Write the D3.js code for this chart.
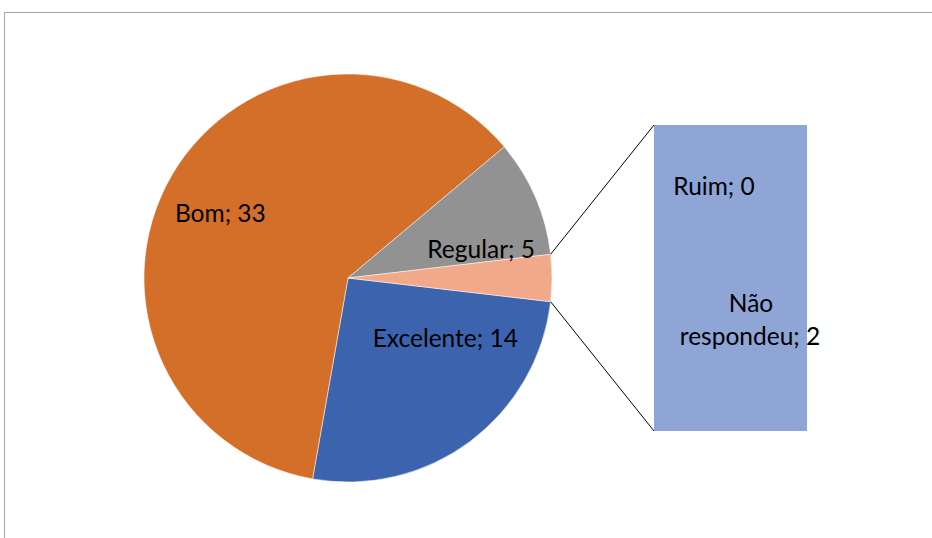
<!DOCTYPE html>
<meta charset="utf-8">
<script src="https://d3js.org/d3.v7.min.js"></script>
<style>
  body { margin: 0; background: #fff; }
  text { font-family: Lato, "Liberation Sans", sans-serif; font-size: 24.5px; fill: #000; }
</style>
<svg id="chart" width="932" height="538"></svg>
<script>
// main pie
var pieNames  = ["Excelente", "Bom", "Regular", "Outros"];
var pieValues = [14, 33, 5, 2];
var pieColors = ["#3c64ae", "#d46f2a", "#929292", "#f1a98a"];

// bar of "Outros"
var barNames  = ["Não respondeu", "Ruim"];
var barValues = [2, 0];
var barColor  = "#8fa5d5";

var svg = d3.select("#chart");

// frame like the excel chart area
svg.append("rect")
  .attr("x", 4.5).attr("y", 12.5)
  .attr("width", 940).attr("height", 540)
  .attr("fill", "none")
  .attr("stroke", "#a6a6a6");

var cx = 348, cy = 278, r = 204;
var total = d3.sum(pieValues);
var otherShare = pieValues[3] / total;
// the small slice sits centered on the right side
var a0 = Math.PI / 2 + otherShare * Math.PI;

var pie = d3.pie().sort(null).value(function(d) { return d.v; })
  .startAngle(a0).endAngle(a0 + 2 * Math.PI);
var arcs = pie(pieNames.map(function(n, i) { return {name: n, v: pieValues[i], c: pieColors[i]}; }));

var arc = d3.arc().innerRadius(0).outerRadius(r);
var labelArc = d3.arc().innerRadius(r * 0.7).outerRadius(r * 0.7);

var g = svg.append("g").attr("transform", "translate(" + cx + "," + cy + ")");
g.selectAll("path")
  .data(arcs)
  .enter().append("path")
  .attr("d", arc)
  .attr("fill", function(d) { return d.data.c; })
  .attr("stroke", "#fff")
  .attr("stroke-width", 0.5);

// label nudges (excel best-fit placement)
var nudge = { "Bom": [-4, 7], "Regular": [2, 28], "Excelente": [12, -54] };
g.selectAll("text.lbl")
  .data(arcs.filter(function(d) { return d.data.name !== "Outros"; }))
  .enter().append("text")
  .attr("class", "lbl")
  .attr("text-anchor", "middle")
  .attr("dy", "0.35em")
  .attr("x", function(d) { return labelArc.centroid(d)[0] + nudge[d.data.name][0]; })
  .attr("y", function(d) { return labelArc.centroid(d)[1] + nudge[d.data.name][1]; })
  .text(function(d) { return d.data.name + "; " + d.data.v; });

// bar of pie
var bx0 = 654, bx1 = 807;
var y = d3.scaleLinear().domain([0, d3.sum(barValues)]).range([431, 125]);
var stack = [];
var acc = 0;
barValues.forEach(function(v, i) { stack.push({name: barNames[i], v: v, y0: acc, y1: acc + v}); acc += v; });

svg.selectAll("rect.bar")
  .data(stack)
  .enter().append("rect")
  .attr("class", "bar")
  .attr("x", bx0)
  .attr("width", bx1 - bx0)
  .attr("y", function(d) { return y(d.y1); })
  .attr("height", function(d) { return y(d.y0) - y(d.y1); })
  .attr("fill", barColor);

// connector lines from small slice to the bar
var other = arcs[3];
var pTop = [cx + r * Math.sin(other.startAngle), cy - r * Math.cos(other.startAngle)];
var pBot = [cx + r * Math.sin(other.endAngle), cy - r * Math.cos(other.endAngle)];
svg.append("line")
  .attr("x1", pTop[0]).attr("y1", pTop[1])
  .attr("x2", bx0).attr("y2", y(d3.sum(barValues)))
  .attr("stroke", "#000").attr("stroke-width", 1);
svg.append("line")
  .attr("x1", pBot[0]).attr("y1", pBot[1])
  .attr("x2", bx0).attr("y2", y(0))
  .attr("stroke", "#000").attr("stroke-width", 1);

// bar labels
var ruim = stack[1], nr = stack[0];
svg.append("text")
  .attr("x", 714).attr("y", y(ruim.y1) + 61)
  .attr("dy", "0.35em")
  .attr("text-anchor", "middle")
  .text(ruim.name + "; " + ruim.v);

var nrMid = (y(nr.y0) + y(nr.y1)) / 2 + 41.5;
var nrText = svg.append("text").attr("text-anchor", "middle");
nrText.append("tspan").attr("x", 751).attr("y", nrMid - 16.5).attr("dy", "0.35em").text("Não");
nrText.append("tspan").attr("x", 750).attr("y", nrMid + 16.5).attr("dy", "0.35em").text("respondeu; " + nr.v);
</script>
